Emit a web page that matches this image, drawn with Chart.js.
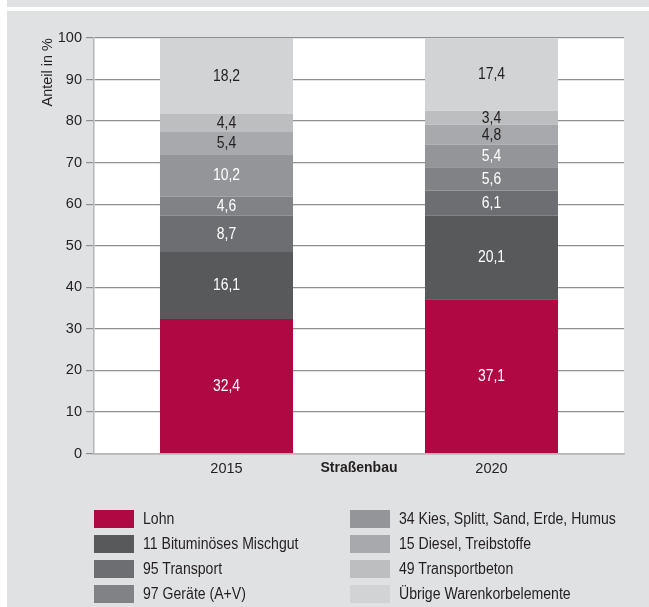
<!DOCTYPE html>
<html><head><meta charset="utf-8">
<script src="https://cdn.jsdelivr.net/npm/chart.js@4.4.1/dist/chart.umd.min.js"></script>
<style>
html,body{margin:0;padding:0;background:#fff;width:649px;height:607px;overflow:hidden;}
body{font-family:'Liberation Sans',Arial,sans-serif;color:#231f20;}
#topstrip{position:absolute;left:7px;top:0;width:642px;height:7px;background:#e0e1e3}
#panel{position:absolute;left:7px;top:11px;width:642px;height:596px;background:#e0e1e3}
#wrap{position:absolute;left:0;top:0;width:649px;height:490px}
#legend{position:absolute;left:0;top:0;width:649px;height:607px;pointer-events:none}
.li{position:absolute;height:18px;display:flex;align-items:center;white-space:nowrap;}
.sw{width:40px;height:18px;margin-right:9px;flex:none}
.tx{display:inline-block;font-size:16px;transform:scaleX(0.88);transform-origin:0 50%;}
</style></head>
<body>
<div id="topstrip"></div>
<div id="panel"></div>
<div id="wrap"><canvas id="c" width="649" height="490"></canvas></div>
<div id="legend"></div>
<script>
const categories = ['2015', '2020'];
const seriesNames = ['Lohn', '11 Bituminöses Mischgut', '95 Transport', '97 Geräte (A+V)',
  '34 Kies, Splitt, Sand, Erde, Humus', '15 Diesel, Treibstoffe', '49 Transportbeton', 'Übrige Warenkorbelemente'];
const lohn = [32.4, 37.1];
const bitumen = [16.1, 20.1];
const transport = [8.7, 6.1];
const geraete = [4.6, 5.6];
const kies = [10.2, 5.4];
const diesel = [5.4, 4.8];
const transportbeton = [4.4, 3.4];
const uebrige = [18.2, 17.4];
const yTicks = [0, 10, 20, 30, 40, 50, 60, 70, 80, 90, 100];
const axisTitleX = 'Straßenbau';
const axisTitleY = 'Anteil in %';

const seriesValues = [lohn, bitumen, transport, geraete, kies, diesel, transportbeton, uebrige];
const colors = ['#b00842', '#58595b', '#6d6e71', '#808285', '#939598', '#a7a9ac', '#bcbec0', '#d1d3d4'];
const labelColors = ['#ffffff', '#ffffff', '#ffffff', '#ffffff', '#ffffff', '#231f20', '#231f20', '#231f20'];
const FONT = "'Liberation Sans',Arial,sans-serif";

const fmt = v => v.toFixed(1).replace('.', ',');

const segLabels = {
  id: 'segLabels',
  afterDatasetsDraw(chart) {
    const ctx = chart.ctx;
    chart.data.datasets.forEach((ds, i) => {
      const meta = chart.getDatasetMeta(i);
      meta.data.forEach((bar, j) => {
        const p = bar.getProps(['x', 'y', 'base'], true);
        ctx.save();
        ctx.translate(p.x, (p.y + p.base) / 2 + 0.5);
        ctx.scale(0.87, 1);
        ctx.fillStyle = labelColors[i];
        ctx.font = '16px ' + FONT;
        ctx.textAlign = 'center';
        ctx.textBaseline = 'middle';
        ctx.fillText(fmt(ds.data[j]), 0, 0);
        ctx.restore();
      });
    });
  }
};

const plotBg = {
  id: 'plotBg',
  beforeDraw(chart) {
    const a = chart.chartArea, ctx = chart.ctx;
    ctx.save();
    ctx.fillStyle = '#ffffff';
    ctx.fillRect(a.left, a.top, a.right - a.left, a.bottom - a.top);
    ctx.restore();
  }
};

new Chart(document.getElementById('c'), {
  type: 'bar',
  data: {
    labels: categories,
    datasets: seriesValues.map((vals, i) => ({
      label: seriesNames[i],
      data: vals,
      backgroundColor: colors[i],
      borderWidth: 0,
      categoryPercentage: 1,
      barPercentage: 0.502
    }))
  },
  options: {
    responsive: false,
    animation: false,
    devicePixelRatio: 1,
    layout: { padding: { left: 0, right: 25, top: 38, bottom: 0 } },
    plugins: { legend: { display: false }, tooltip: { enabled: false } },
    scales: {
      x: {
        stacked: true,
        grid: { display: false, drawTicks: false },
        border: { display: true, color: '#b5b5b5', width: 1.5 },
        ticks: { color: '#231f20', font: { family: FONT, size: 14.5 }, padding: 7 },
        title: { display: true, text: axisTitleX, color: '#231f20',
          font: { family: FONT, size: 14, weight: 'bold' }, padding: { top: 0, bottom: 13 } },
        afterFit(s) { s.height = 36.5; }
      },
      y: {
        stacked: true,
        min: 0, max: 100,
        afterBuildTicks(s) { s.ticks = yTicks.map(v => ({ value: v })); },
        grid: { color: '#8f8f8f', lineWidth: 1.2, tickLength: 8, tickColor: '#8f8f8f', drawTicks: true },
        border: { display: true, color: '#b5b5b5', width: 1.5 },
        ticks: { color: '#231f20', font: { family: FONT, size: 14.5 }, padding: 4 },
        title: { display: true, text: axisTitleY, align: 'end', color: '#231f20',
          font: { family: FONT, size: 14.5 }, padding: { top: 39, bottom: 0 } },
        afterFit(s) { s.width = 94; }
      }
    }
  },
  plugins: [plotBg, segLabels]
});

// HTML legend (two columns, four rows each)
const leg = document.getElementById('legend');
seriesNames.forEach((name, i) => {
  const col = Math.floor(i / 4), row = i % 4;
  const d = document.createElement('div');
  d.className = 'li';
  d.style.left = (col === 0 ? 94 : 350) + 'px';
  d.style.top = (510 + row * 25) + 'px';
  const sw = document.createElement('span');
  sw.className = 'sw';
  sw.style.background = colors[i];
  const t = document.createElement('span');
  t.className = 'tx';
  t.textContent = name;
  d.appendChild(sw); d.appendChild(t);
  leg.appendChild(d);
});
</script>
</body></html>
